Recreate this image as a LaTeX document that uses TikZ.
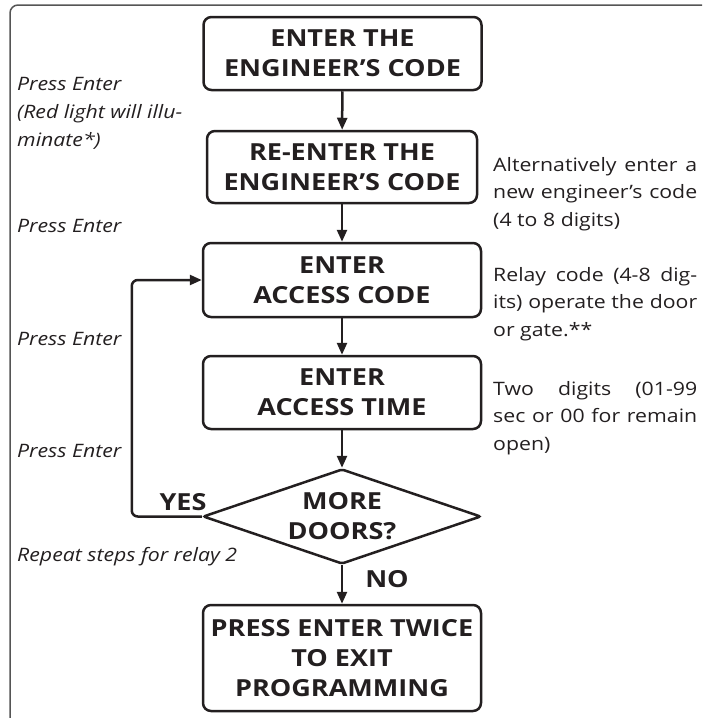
\documentclass[tikz,border=0pt]{standalone}
\usepackage{fontspec}
\setmainfont{Open Sans}[FakeStretch=1.15]
\usepackage{tikz}
\usetikzlibrary{shapes.geometric,arrows.meta}
\definecolor{ink}{HTML}{231F20}
\definecolor{framegray}{HTML}{555555}
\pgfdeclarelayer{edgelayer}
\pgfdeclarelayer{nodelayer}
\pgfsetlayers{edgelayer,nodelayer,main}
\tikzstyle{stepbox}=[rectangle,rounded corners=8pt,draw=ink,line width=2.5pt,text=ink,font=\bfseries\fontsize{23.5}{30}\selectfont,align=center,minimum width=278pt,minimum height=73pt,inner sep=0pt]
\tikzstyle{question}=[diamond,draw=ink,line width=2.5pt,text=ink,font=\bfseries\fontsize{23.5}{30}\selectfont,align=center,aspect=2.93,minimum width=278pt,minimum height=95pt,inner sep=0pt,rounded corners=2pt]
\tikzstyle{answer}=[text=ink,font=\bfseries\fontsize{23.5}{30}\selectfont,inner sep=0pt]
\tikzstyle{hint}=[text=ink,font=\itshape\fontsize{18.5}{28}\selectfont,align=left,anchor=north west,inner sep=0pt]
\tikzstyle{remark}=[text=ink,font=\fontsize{18.5}{27.5}\selectfont,align=justify,text width=204pt,anchor=north west,inner sep=0pt]
\tikzstyle{inarrow}=[->, >={Triangle[length=12pt,width=10pt]}, draw=ink, line width=2.5pt]
\tikzstyle{loop}=[->, >={Triangle[length=12pt,width=10pt]}, draw=ink, line width=2.5pt, rounded corners=6pt]
\tikzstyle{frame}=[-, draw=framegray, line width=1.5pt, rounded corners=8pt]

\begin{document}
\begin{tikzpicture}[x=1pt,y=-1pt]
	\useasboundingbox (0,0) rectangle (702,718);
	\begin{pgfonlayer}{nodelayer}
		\node [style=stepbox] (b1) at (342.5, 53.5) {ENTER THE\\ENGINEER'S CODE};
		\node [style=stepbox, minimum width=270pt, minimum height=72pt] (b2) at (342, 167) {RE-ENTER THE\\ENGINEER'S CODE};
		\node [style=stepbox, minimum height=74pt] (b3) at (342, 280) {ENTER\\ACCESS CODE};
		\node [style=stepbox] (b4) at (342, 392.5) {ENTER\\ACCESS TIME};
		\node [style=question] (d) at (342, 516.5) {MORE\\DOORS?};
		\node [style=stepbox, minimum height=106pt] (b5) at (342, 658) {PRESS ENTER TWICE\\TO EXIT\\PROGRAMMING};

		\node [style=answer] (yes) at (183, 502) {YES};
		\node [style=answer] (no) at (387, 579) {NO};

		\node [style=hint] (h1) at (17, 77) {Press Enter\\(Red light will illu-\\minate*)};
		\node [style=hint] (h2) at (17, 219) {Press Enter};
		\node [style=hint] (h3) at (17, 332) {Press Enter};
		\node [style=hint] (h4) at (17, 444) {Press Enter};
		\node [style=hint] (h5) at (17, 547) {Repeat steps for relay 2};

		\node [style=remark] (r1) at (493, 157) {Alternatively enter a\linebreak new engineer's code\linebreak (4 to 8 digits)};
		\node [style=remark] (r2) at (493, 267) {Relay code (4-8 dig-\linebreak its) operate the door\linebreak or gate.**};
		\node [style=remark] (r3) at (493, 381) {Two digits (01-99\linebreak sec or 00 for remain\linebreak open)};
	\end{pgfonlayer}
	\begin{pgfonlayer}{edgelayer}
		\draw [style=frame] (10, 718) -- (10, 5) -- (702, 5);
		\draw [style=inarrow] (b1) to (b2);
		\draw [style=inarrow] (b2) to (b3);
		\draw [style=inarrow] (b3) to (b4);
		\draw [style=inarrow] (b4) to (d);
		\draw [style=inarrow] (d) to (b5);
		\draw [style=loop] (d.west) -- ++(-70, 0) |- (b3.west);
	\end{pgfonlayer}
\end{tikzpicture}
\end{document}
